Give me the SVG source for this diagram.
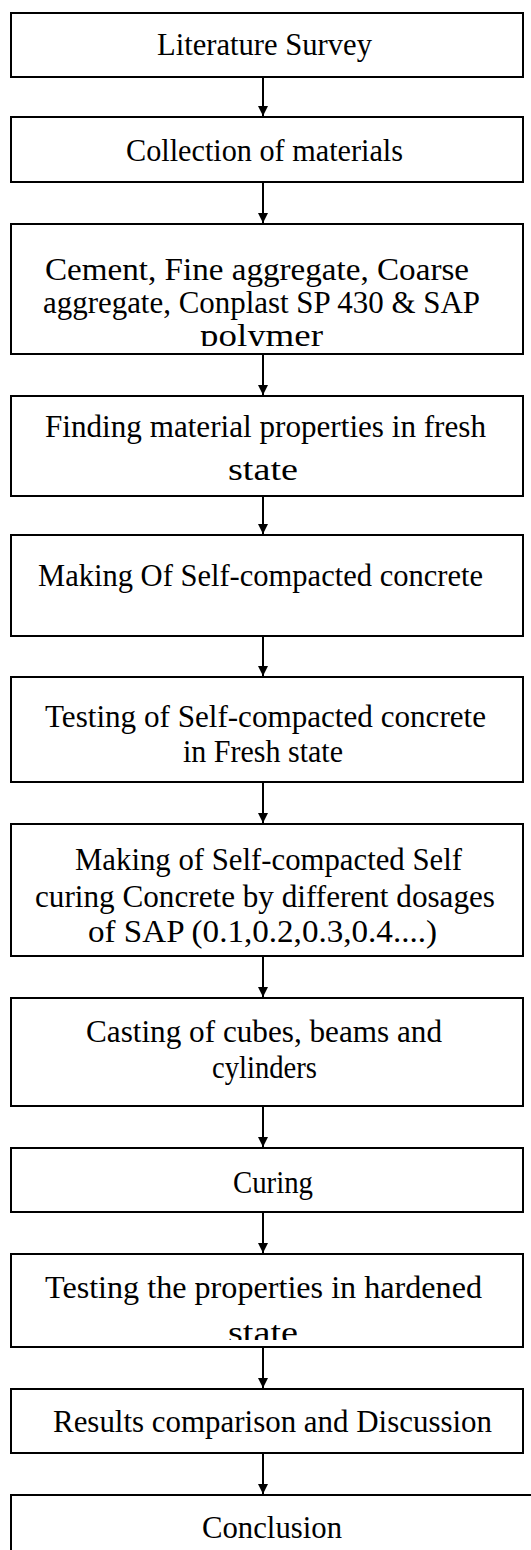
<svg xmlns="http://www.w3.org/2000/svg" width="531" height="1550" viewBox="0 0 531 1550">
  <style>
    .box { fill: #ffffff; stroke: #000000; stroke-width: 2; }
    .lbl { font-family: "Liberation Serif", "Times New Roman", serif; font-size: 32px; fill: #000000; }
    .link { stroke: #000000; stroke-width: 2; fill: none; marker-end: url(#arrow); }
  </style>
  <defs>
    <marker id="arrow" markerUnits="userSpaceOnUse" markerWidth="10" markerHeight="10" refX="10" refY="5" orient="auto" viewBox="0 0 10 10">
      <path d="M0,0 L10,5 L0,10 Z" fill="#000000"/>
    </marker>
    <!-- last lines of two boxes overflow and are cut off -->
    <clipPath id="clip-polymer"><rect x="11" y="318" width="512" height="28"/></clipPath>
    <clipPath id="clip-state"><rect x="11" y="1312" width="512" height="28"/></clipPath>
  </defs>

  <!-- connectors -->
  <g id="connectors">
    <line class="link" x1="263" y1="77" x2="263" y2="116"/>
    <line class="link" x1="263" y1="182" x2="263" y2="223"/>
    <line class="link" x1="263" y1="354" x2="263" y2="395"/>
    <line class="link" x1="263" y1="496" x2="263" y2="534"/>
    <line class="link" x1="263" y1="636" x2="263" y2="676"/>
    <line class="link" x1="263" y1="782" x2="263" y2="823"/>
    <line class="link" x1="263" y1="956" x2="263" y2="997"/>
    <line class="link" x1="263" y1="1106" x2="263" y2="1147"/>
    <line class="link" x1="263" y1="1212" x2="263" y2="1253"/>
    <line class="link" x1="263" y1="1347" x2="263" y2="1388"/>
    <line class="link" x1="263" y1="1453" x2="263" y2="1494"/>
  </g>

  <g id="literature-survey">
    <rect class="box" x="11" y="13" width="512" height="64"/>
    <text class="lbl" x="157" y="55" textLength="215" lengthAdjust="spacingAndGlyphs">Literature Survey</text>
  </g>

  <g id="collection-of-materials">
    <rect class="box" x="11" y="117" width="512" height="65"/>
    <text class="lbl" x="126" y="161" textLength="277" lengthAdjust="spacingAndGlyphs">Collection of materials</text>
  </g>

  <g id="materials-list">
    <rect class="box" x="11" y="224" width="512" height="130"/>
    <text class="lbl" x="45" y="280" textLength="424" lengthAdjust="spacingAndGlyphs">Cement, Fine aggregate, Coarse</text>
    <text class="lbl" x="43" y="313" textLength="437" lengthAdjust="spacingAndGlyphs">aggregate, Conplast SP 430 &amp; SAP</text>
    <text class="lbl" x="200" y="346" textLength="123" lengthAdjust="spacingAndGlyphs" clip-path="url(#clip-polymer)">polymer</text>
  </g>

  <g id="material-properties">
    <rect class="box" x="11" y="396" width="512" height="100"/>
    <text class="lbl" x="45" y="437" textLength="441" lengthAdjust="spacingAndGlyphs">Finding material properties in fresh</text>
    <text class="lbl" x="228" y="480" textLength="70" lengthAdjust="spacingAndGlyphs">state</text>
  </g>

  <g id="making-scc">
    <rect class="box" x="11" y="535" width="512" height="101"/>
    <text class="lbl" x="38" y="586" textLength="445" lengthAdjust="spacingAndGlyphs">Making Of Self-compacted concrete</text>
  </g>

  <g id="testing-fresh">
    <rect class="box" x="11" y="677" width="512" height="105"/>
    <text class="lbl" x="45" y="727" textLength="441" lengthAdjust="spacingAndGlyphs">Testing of Self-compacted concrete</text>
    <text class="lbl" x="183" y="762" textLength="160" lengthAdjust="spacingAndGlyphs">in Fresh state</text>
  </g>

  <g id="making-self-curing">
    <rect class="box" x="11" y="824" width="512" height="132"/>
    <text class="lbl" x="75" y="870" textLength="387" lengthAdjust="spacingAndGlyphs">Making of Self-compacted Self</text>
    <text class="lbl" x="35" y="907" textLength="460" lengthAdjust="spacingAndGlyphs">curing Concrete by different dosages</text>
    <text class="lbl" x="88" y="942" textLength="349" lengthAdjust="spacingAndGlyphs">of SAP (0.1,0.2,0.3,0.4....)</text>
  </g>

  <g id="casting">
    <rect class="box" x="11" y="998" width="512" height="108"/>
    <text class="lbl" x="86" y="1042" textLength="356" lengthAdjust="spacingAndGlyphs">Casting of cubes, beams and</text>
    <text class="lbl" x="212" y="1078" textLength="105" lengthAdjust="spacingAndGlyphs">cylinders</text>
  </g>

  <g id="curing">
    <rect class="box" x="11" y="1148" width="512" height="64"/>
    <text class="lbl" x="233" y="1193" textLength="80" lengthAdjust="spacingAndGlyphs">Curing</text>
  </g>

  <g id="testing-hardened">
    <rect class="box" x="11" y="1254" width="512" height="93"/>
    <text class="lbl" x="45" y="1298" textLength="437" lengthAdjust="spacingAndGlyphs">Testing the properties in hardened</text>
    <text class="lbl" x="228" y="1343" textLength="70" lengthAdjust="spacingAndGlyphs" clip-path="url(#clip-state)">state</text>
  </g>

  <g id="results">
    <rect class="box" x="11" y="1389" width="512" height="64"/>
    <text class="lbl" x="53" y="1432" textLength="439" lengthAdjust="spacingAndGlyphs">Results comparison and Discussion</text>
  </g>

  <g id="conclusion">
    <rect class="box" x="11" y="1495" width="530" height="70"/>
    <text class="lbl" x="202" y="1538" textLength="140" lengthAdjust="spacingAndGlyphs">Conclusion</text>
  </g>
</svg>
